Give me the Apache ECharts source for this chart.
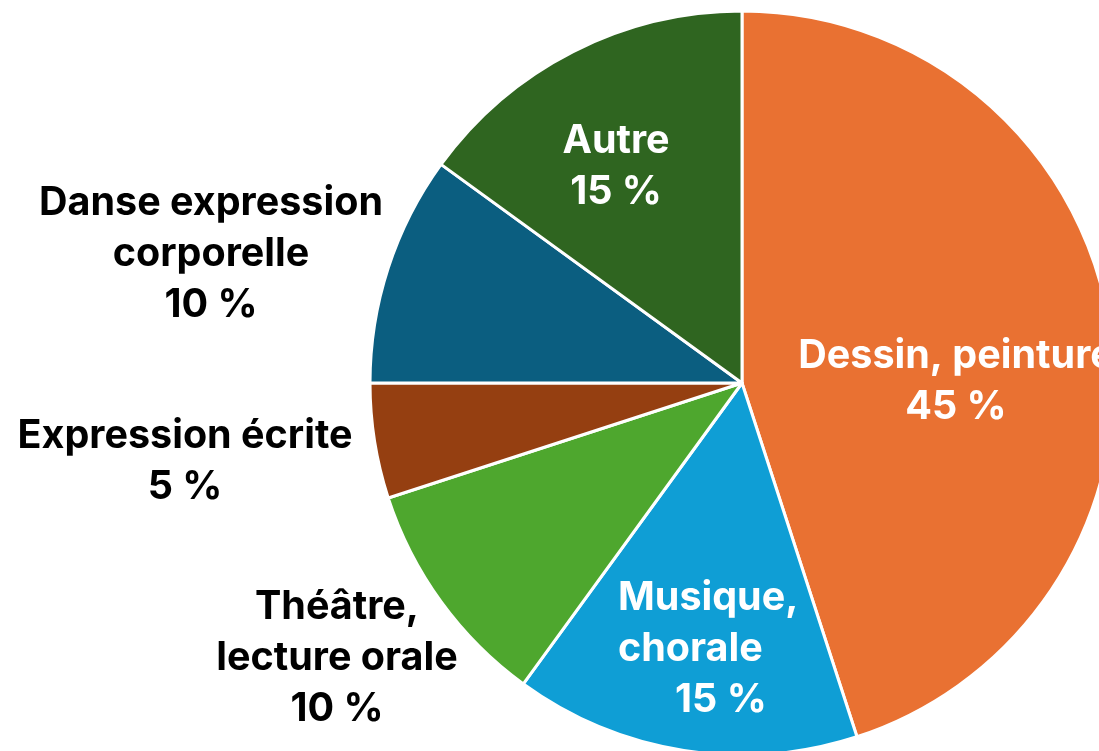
<!DOCTYPE html>
<html>
<head>
<meta charset="utf-8">
<script src="https://cdn.jsdelivr.net/npm/echarts@6/dist/echarts.min.js"></script>
<style>html,body{margin:0;padding:0;background:#fff}#c{width:1099px;height:751px}</style>
</head>
<body>
<div id="c"></div>
<script>
const categories = ['Dessin, peinture', 'Musique, chorale', 'Théâtre, lecture orale', 'Expression écrite', 'Danse expression corporelle', 'Autre'];
const values = [45, 15, 10, 5, 10, 15];
const colors = ['#E97132', '#0F9ED5', '#4EA72E', '#953F11', '#0B5E80', '#2F6520'];
const labelColors = ['#fff', '#fff', '#000', '#000', '#000', '#fff'];
const labelTexts = [
  'Dessin, peinture\n45 %',
  '{a|Musique,}\n{a|chorale}\n{b|15 %}',
  'Théâtre,\nlecture orale\n10 %',
  'Expression écrite\n5 %',
  'Danse expression\ncorporelle\n10 %',
  'Autre\n15 %'
];
// label anchor layout
const labelAnchors = [
  {x: 956, y: 382, align: 'center'},
  {x: 618, y: 649, align: 'left'},
  {x: 337, y: 658, align: 'center'},
  {x: 185, y: 462, align: 'center'},
  {x: 211, y: 254, align: 'center'},
  {x: 616, y: 167, align: 'center'}
];
const FS = 39.5;

const chart = echarts.init(document.getElementById('c'));
chart.setOption({
  animation: false,
  series: [{
    type: 'pie',
    center: [742, 383],
    radius: 372,
    startAngle: 90,
    clockwise: true,
    itemStyle: {borderColor: '#fff', borderWidth: 3},
    labelLine: {show: false},
    label: {
      show: true,
      position: 'inside',
      fontFamily: 'Inter',
      fontWeight: 'bold',
      fontSize: FS,
      lineHeight: 51,
      formatter: p => labelTexts[p.dataIndex],
      rich: {
        a: {fontFamily: 'Inter', fontWeight: 'bold', fontSize: FS, lineHeight: 51, color: '#fff'},
        b: {fontFamily: 'Inter', fontWeight: 'bold', fontSize: FS, lineHeight: 51, color: '#fff', padding: [0, 0, 0, 57]}
      }
    },
    labelLayout: p => {
      const a = labelAnchors[p.dataIndex];
      return {x: a.x, y: a.y, align: a.align, verticalAlign: 'middle'};
    },
    emphasis: {disabled: true},
    data: categories.map((n, i) => ({
      name: n,
      value: values[i],
      itemStyle: {color: colors[i]},
      label: {color: labelColors[i], textAlign: labelAnchors[i].align}
    }))
  }]
});
</script>
</body>
</html>
